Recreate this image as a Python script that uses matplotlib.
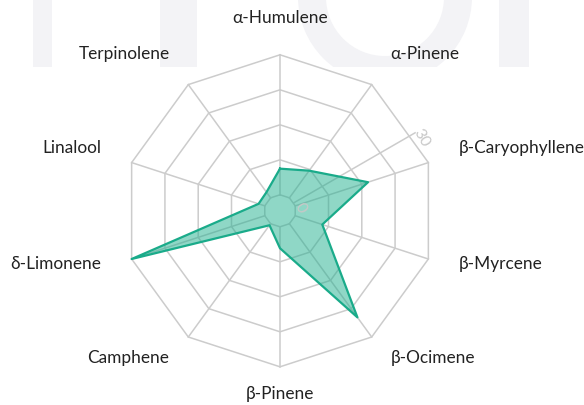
import numpy as np
import matplotlib
matplotlib.use('Agg')
import matplotlib.pyplot as plt
from matplotlib.patches import Rectangle, Wedge

plt.rcParams['font.family'] = ['Lato', 'DejaVu Sans']

compounds = ['α-Humulene', 'α-Pinene', 'β-Caryophyllene', 'β-Myrcene', 'β-Ocimene',
             'β-Pinene', 'Camphene', 'δ-Limonene', 'Linalool', 'Terpinolene']
values = [5.6, 7.2, 16.4, 6.1, 24.8, 4.6, 0.4, 30.0, 1.4, 1.5]
ring_vals = [0, 7.5, 15, 22.5, 30]
tick_labels = {0: '0', 30: '30'}
vmax = 30

grid_c = '#cccccc'
line_c = '#1aab8a'
fill_c = '#21b08f'

W, H = 584, 405
fig = plt.figure(figsize=(W / 100, H / 100), dpi=100)

# faint watermark in the background (top strip)
bg = fig.add_axes([0, 0, 1, 1], zorder=0)
bg.set_xlim(0, W)
bg.set_ylim(H, 0)
bg.axis('off')
wm = '#f3f3f6'
clip = Rectangle((0, 0), W, 67, transform=bg.transData, fill=False)
for x0, x1 in [(33, 52), (160, 197), (499, 529)]:
    r = Rectangle((x0, 0), x1 - x0, 67, color=wm, lw=0)
    bg.add_patch(r)
ring = Wedge((385, -3), 87, 0, 360, width=28, color=wm, lw=0)
bg.add_patch(ring)
ring.set_clip_path(clip)

# radar
cx, cy, R = 280, 405 - 210.8, 156
ax = fig.add_axes([(cx - R) / W, (cy - R) / H, 2 * R / W, 2 * R / H],
                  projection='polar', zorder=1)
ax.set_facecolor('none')
ax.set_theta_zero_location('N')
ax.set_theta_direction(-1)
ax.set_ylim(0, vmax)
ax.set_rorigin(-vmax * 16 / 140)
ax.grid(False)
ax.set_xticks([])
ax.set_yticks([])
for s in ax.spines.values():
    s.set_color('none')
    s.set_linewidth(0)

n = len(compounds)
theta = np.arange(n) * 2 * np.pi / n
tc = np.append(theta, theta[0])

for rv in ring_vals:
    ax.plot(tc, [rv] * (n + 1), color=grid_c, lw=1.1, clip_on=False, zorder=1)
for t in theta:
    ax.plot([t, t], [0, vmax], color=grid_c, lw=1.1, clip_on=False, zorder=1)

# radial axis line and its labels
ra = np.deg2rad(60)
ax.plot([ra, ra], [0, vmax], color=grid_c, lw=1.1, clip_on=False, zorder=1)
for v, lab in tick_labels.items():
    ax.annotate(lab, (ra, v), xytext=(0.5 * 8 + 0.866 * 3, -0.866 * 8 + 0.5 * 3),
                textcoords='offset pixels', ha='center', va='center',
                rotation=-60, color='#c8c8c8', fontsize=11.5, annotation_clip=False)

vc = np.append(values, values[0])
ax.fill(tc, vc, color=fill_c, alpha=0.5, lw=0, zorder=2, clip_on=False)
ax.plot(tc, vc, color=line_c, lw=1.6, zorder=3, clip_on=False)

for t, lab in zip(theta, compounds):
    s, c = np.sin(t), np.cos(t)
    ha = 'left' if s > 0.01 else ('right' if s < -0.01 else 'center')
    ax.annotate(lab, (t, vmax), xytext=(32 * s, 32 * c + 5), textcoords='offset pixels',
                ha=ha, va='center', fontsize=12.4, color='#222222',
                annotation_clip=False)

fig.savefig('out.png', dpi=100)
